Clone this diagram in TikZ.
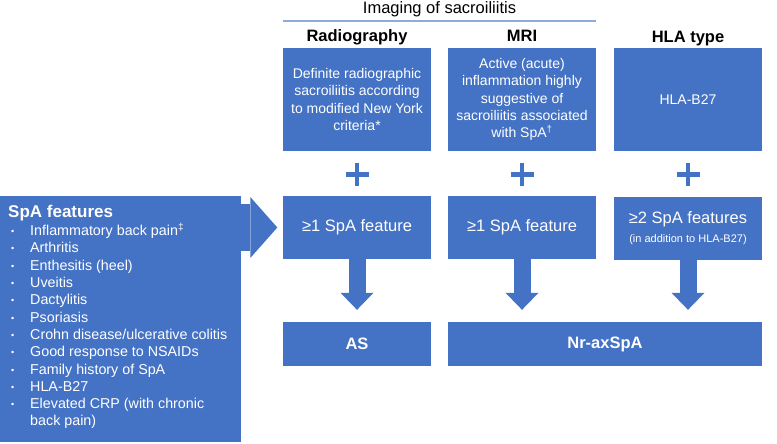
\documentclass[tikz,border=0pt]{standalone}
\usepackage{fontspec}
\setmainfont{Liberation Sans}
\usetikzlibrary{arrows.meta,calc}
\definecolor{obl}{HTML}{4472C4}
\definecolor{lbl}{HTML}{8FAADC}
\begin{document}
\begin{tikzpicture}[x=1pt,y=1pt,
  box/.style={fill=obl, draw=none, text=white, inner sep=0pt, align=center, minimum width=148pt},
  topbox/.style={box, minimum height=103pt, font=\fontsize{14}{17.3}\selectfont},
  midbox/.style={box, minimum height=63pt, font=\fontsize{16.5}{19}\selectfont},
  botbox/.style={box, minimum height=44pt, font=\bfseries\fontsize{16.5}{19}\selectfont},
  head/.style={anchor=base, inner sep=0pt, font=\bfseries\fontsize{16.5}{19}\selectfont},
  plussign/.style={draw=obl, line width=4.5pt},
  downarrow/.style={draw=obl, line width=17pt, -{Triangle[length=17pt,width=33pt,line width=0pt]}, shorten >=12pt},
  sidearrow/.style={draw=obl, line width=47pt, -{Triangle[length=27pt,width=61pt,line width=0pt]}, shorten >=5.5pt},
  sepline/.style={draw=lbl, line width=1.5pt},
]
\useasboundingbox (0,0) rectangle (777,-444);

% title over imaging columns
\node[anchor=base, inner sep=0pt, font=\fontsize{16.5}{19}\selectfont] (imaging) at (439.5,-13.5) {Imaging of sacroiliitis};

% headers
\node[head] (hrad) at (357,-42) {Radiography};
\node[head] (hmri) at (522,-42) {MRI};
\node[head] (hhla) at (688,-43) {HLA type};

% top boxes
\node[topbox] (r1) at (357,-99.5) {Definite radiographic\\sacroiliitis according\\to modified New York\\criteria*};
\node[topbox] (r2) at (522,-99.5) {Active (acute)\\inflammation highly\\suggestive of\\sacroiliitis associated\\with SpA\textsuperscript{†}};
\node[topbox] (r3) at (688,-99.5) {HLA-B27};

% separator line
\draw[sepline] ($(r1.north west)+(0,27)$) -- ($(r2.north east)+(0,27)$);

% plus signs
\foreach \cx in {357,522,688}{
  \draw[plussign] (\cx-11.5,-174.5) -- (\cx+11.5,-174.5);
  \draw[plussign] (\cx,-163) -- (\cx,-186);
}

% middle boxes
\node[midbox] (m1) at (357,-227.5) {≥1 SpA feature};
\node[midbox] (m2) at (522,-227.5) {≥1 SpA feature};
\node[midbox] (m3) at (688,-228.5) {≥2 SpA features\\{\fontsize{11}{13}\selectfont (in addition to HLA-B27)}};

% bottom boxes
\node[botbox] (b1) at (357,-344) {AS};
\node[botbox, minimum width=314pt] (b2) at (605,-344) {Nr-axSpA};

% down arrows
\draw[downarrow] (m1.south) -- (b1.north);
\draw[downarrow] (m2.south) -- (m2.south |- b2.north);
\draw[downarrow] (m3.south) -- (m3.south |- b2.north);

% SpA features box
\node[fill=obl, anchor=north west, minimum width=241pt, minimum height=246pt, inner sep=0pt] (spa) at (0,-196) {};
\draw[sidearrow] ([xshift=-10pt]spa.east |- m1.west) -- (m1.west);
\node[anchor=base west, inner sep=0pt, text=white, font=\bfseries\fontsize{17}{20}\selectfont] (spatitle) at (8,-217) {SpA features};
\node[anchor=north west, inner sep=0pt, text=white, font=\fontsize{14.3}{17.3}\selectfont] (spalist) at (11,-223) {%
\begin{tabular}{@{}p{19pt}@{}l@{}}
\raisebox{1pt}{\fontsize{9}{9}\selectfont\textbullet} & Inflammatory back pain\textsuperscript{‡}\\
\raisebox{1pt}{\fontsize{9}{9}\selectfont\textbullet} & Arthritis\\
\raisebox{1pt}{\fontsize{9}{9}\selectfont\textbullet} & Enthesitis (heel)\\
\raisebox{1pt}{\fontsize{9}{9}\selectfont\textbullet} & Uveitis\\
\raisebox{1pt}{\fontsize{9}{9}\selectfont\textbullet} & Dactylitis\\
\raisebox{1pt}{\fontsize{9}{9}\selectfont\textbullet} & Psoriasis\\
\raisebox{1pt}{\fontsize{9}{9}\selectfont\textbullet} & Crohn disease/ulcerative colitis\\
\raisebox{1pt}{\fontsize{9}{9}\selectfont\textbullet} & Good response to NSAIDs\\
\raisebox{1pt}{\fontsize{9}{9}\selectfont\textbullet} & Family history of SpA\\
\raisebox{1pt}{\fontsize{9}{9}\selectfont\textbullet} & HLA-B27\\
\raisebox{1pt}{\fontsize{9}{9}\selectfont\textbullet} & Elevated CRP (with chronic\\
 & back pain)
\end{tabular}};
\end{tikzpicture}
\end{document}
